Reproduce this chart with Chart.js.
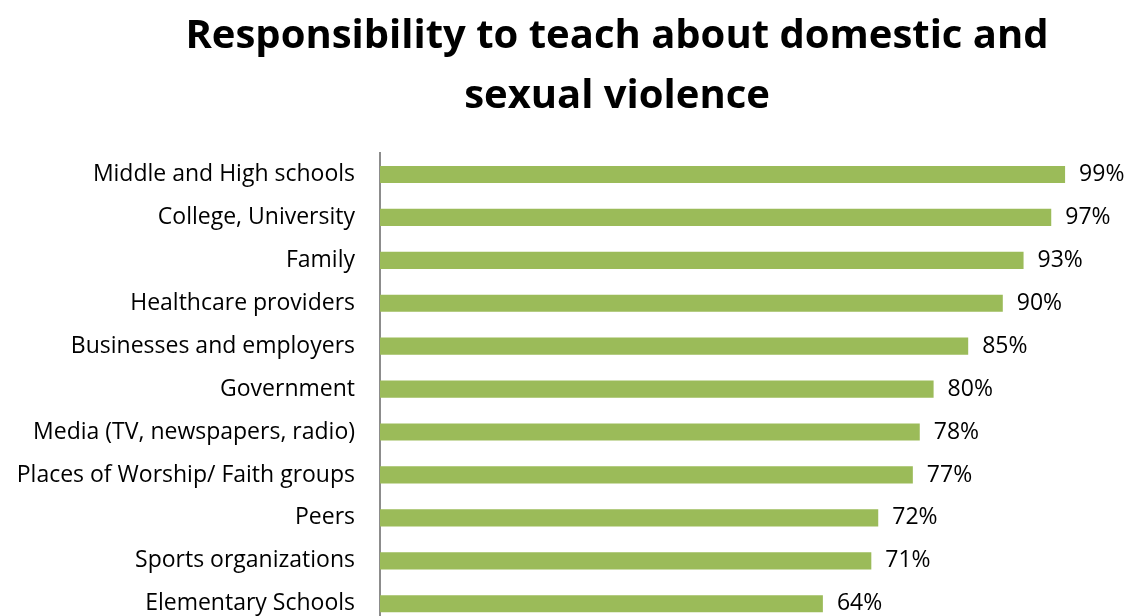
<!DOCTYPE html>
<html>
  <head>
    <meta charset="UTF-8" />
    <title>Responsibility to teach</title>
    <script src="https://cdn.jsdelivr.net/npm/chart.js"></script>
    <style type="text/css">
      body{
          margin:0;
          overflow:hidden;
          background:#ffffff;
      }
      #wrap{
          position:relative;
          width:1129px;
          height:616px;
          overflow:hidden;
      }
      #heading{
          position:absolute;
          left:0;
          top:3px;
          width:1234px;
          text-align:center;
          font-family:"Open Sans", sans-serif;
          font-weight:bold;
          font-size:40px;
          line-height:60px;
          color:#000;
      }
    </style>
  </head>

  <body>
    <div id="wrap">
      <!-- canvas runs past the bottom edge, the last row is cut off -->
      <canvas id="chart" width="1129" height="664"></canvas>
      <div id="heading">Responsibility to teach about domestic and<br>sexual violence</div>
    </div>

    <script>
      // who should teach about it, top to bottom
      var categories = [
        "Middle and High schools",
        "College, University",
        "Family",
        "Healthcare providers",
        "Businesses and employers",
        "Government",
        "Media (TV, newspapers, radio)",
        "Places of Worship/ Faith groups",
        "Peers",
        "Sports organizations",
        "Elementary Schools"
      ];
      var percents = [99, 97, 93, 90, 85, 80, 78, 77, 72, 71, 64];
      var barColor = "#9BBB59";

      // percent text just right of each bar
      var valueLabels = {
        id: "valueLabels",
        afterDatasetsDraw: function(chart){
          var ctx = chart.ctx;
          var meta = chart.getDatasetMeta(0);
          ctx.save();
          ctx.font = "23px 'Open Sans'";
          ctx.fillStyle = "#000";
          ctx.textAlign = "left";
          ctx.textBaseline = "middle";
          meta.data.forEach(function(bar, i){
            ctx.fillText(percents[i] + "%", bar.x + 14, bar.y);
          });
          ctx.restore();
        }
      };

      new Chart(document.getElementById("chart"), {
        type: "bar",
        data: {
          labels: categories,
          datasets: [{
            data: percents,
            backgroundColor: barColor,
            borderWidth: 0,
            categoryPercentage: 0.8,
            barPercentage: 0.5
          }]
        },
        options: {
          indexAxis: "y",
          responsive: false,
          animation: false,
          layout: {
            padding: { top: 153, right: 57, bottom: 0, left: 0 }
          },
          plugins: {
            legend: { display: false },
            tooltip: { enabled: false }
          },
          scales: {
            x: {
              min: 0,
              max: 100,
              display: false
            },
            y: {
              afterFit: function(scale){ scale.width = 380; },
              grid: { display: false, drawTicks: false },
              border: { display: true, color: "#8c8c8c", width: 2 },
              ticks: {
                padding: 25,
                color: "#000",
                font: { family: "'Open Sans'", size: 23 }
              }
            }
          }
        },
        plugins: [valueLabels]
      });
    </script>
  </body>
</html>
